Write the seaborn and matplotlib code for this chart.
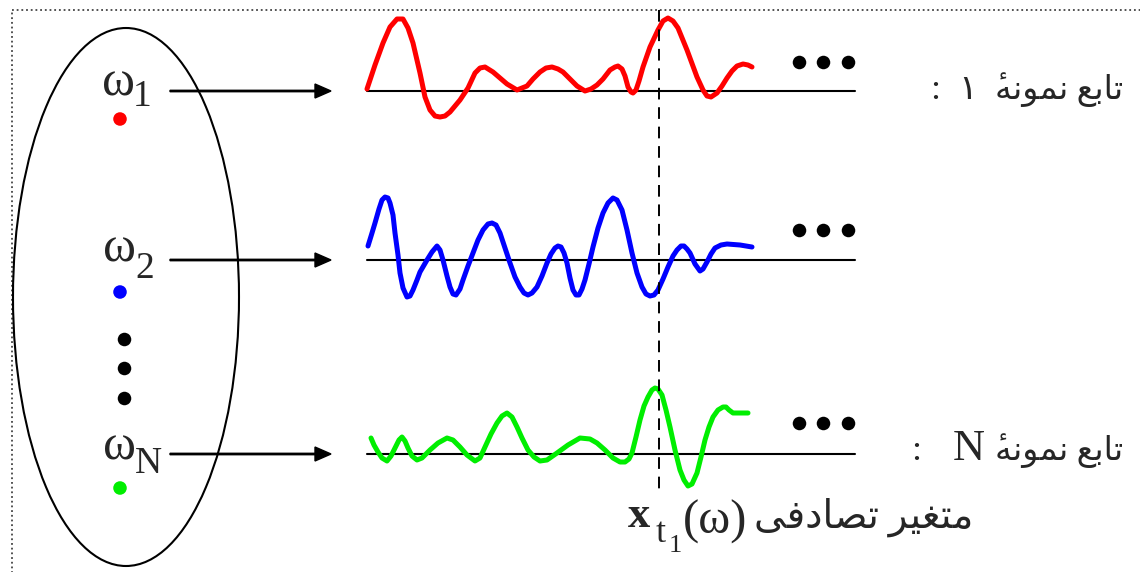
import numpy as np
import matplotlib.pyplot as plt
from matplotlib.patches import Ellipse, Rectangle
import seaborn as sns

# sample functions (x in px, y in px, y grows downward)
red_x = [367, 375, 383, 390, 397, 403, 408, 413, 420, 425, 430, 435, 440, 445, 450, 460, 468, 475, 480, 485,
         493, 500, 507, 517, 527, 533, 540, 546, 552, 558, 563, 570, 577, 585, 591, 597, 603, 610, 615, 618,
         622, 625, 628, 631, 633, 636, 639, 643, 650, 658, 663, 668, 673, 678, 687, 697, 703, 707, 711, 717,
         722, 727, 732, 737, 743, 748, 752]
red_y = [89, 65, 43, 27, 19, 19, 28, 43, 73, 97, 110, 116, 117, 116, 112, 100, 88, 73, 68, 67,
         72, 78, 84, 90, 86, 79, 72, 68, 67, 69, 72, 79, 86, 91, 89, 85, 79, 70, 67, 66,
         69, 76, 87, 92, 93, 90, 81, 67, 47, 30, 21, 18, 21, 28, 50, 77, 90, 96, 97, 93,
         86, 78, 71, 66, 64, 65, 67]

blue_x = [368, 372, 375, 379, 382, 385, 388, 390, 393, 395, 398, 400, 403, 407, 410, 413, 417, 420, 427, 432,
          437, 440, 443, 447, 450, 453, 456, 460, 463, 468, 473, 478, 483, 488, 492, 496, 500, 505, 510, 515,
          520, 524, 528, 532, 537, 542, 547, 551, 555, 558, 561, 564, 567, 570, 573, 576, 579, 582, 585, 589,
          593, 598, 603, 608, 613, 617, 622, 627, 632, 637, 642, 646, 650, 654, 658, 663, 668, 673, 677, 681,
          684, 687, 690, 695, 700, 703, 707, 711, 715, 721, 727, 740, 752]
blue_y = [246, 233, 223, 209, 200, 197, 198, 203, 215, 233, 255, 273, 288, 297, 296, 290, 280, 272, 260, 252,
          246, 250, 260, 276, 287, 294, 295, 289, 280, 266, 253, 240, 230, 224, 223, 225, 233, 248, 263, 277,
          287, 293, 295, 293, 287, 276, 263, 254, 248, 246, 247, 253, 263, 278, 290, 295, 295, 289, 280, 264,
          247, 228, 213, 203, 198, 200, 210, 230, 253, 273, 287, 294, 296, 295, 290, 279, 267, 256, 250, 246,
          246, 249, 253, 264, 271, 269, 262, 254, 248, 245, 244, 245, 247]

green_x = [371, 374, 378, 382, 387, 391, 395, 399, 402, 405, 408, 412, 417, 422, 430, 438, 447, 453, 460, 467,
           475, 480, 485, 491, 497, 502, 507, 512, 517, 522, 528, 534, 540, 547, 557, 568, 580, 590, 597, 605,
           613, 620, 625, 629, 632, 636, 640, 644, 648, 652, 655, 658, 662, 666, 670, 675, 680, 684, 688, 692,
           697, 701, 705, 709, 713, 718, 723, 726, 729, 733, 748]
green_y = [438, 445, 452, 458, 461, 456, 448, 440, 437, 441, 448, 456, 460, 458, 450, 443, 438, 440, 447, 455,
           461, 458, 447, 434, 423, 416, 413, 417, 427, 438, 450, 457, 461, 460, 453, 445, 438, 439, 443, 450,
           458, 462, 462, 459, 453, 437, 420, 406, 397, 390, 388, 389, 395, 410, 427, 450, 470, 480, 486, 484,
           473, 457, 440, 427, 417, 410, 407, 407, 410, 413, 413]

row_y = [91, 260, 454]                 # time axes / arrows
omega_labels = ["1", "2", "N"]
point_colors = ["#ff0000", "#0000ff", "#00ee00"]
point_y = [119, 292, 488]
vdots_y = [339, 368, 398]
hdots_x = [799, 823, 848]
hdots_y = [62, 230, 423]

# Arabic text in visual order (presentation forms, right-to-left reversed)
tabe = "\uFECA\uFE91\uFE8E\uFE97"                   # تابع
nemune = "\u0654\uFEEA\uFEE7\uFEEE\uFEE4\uFEE7"     # نمونهٔ
tasadofi = "\uFEF0\uFED3\uFEA9\uFE8E\uFEBC\uFE97"   # تصادفی
motaghayyer = "\uFEAE\uFEF4\uFED0\uFE98\uFEE3"      # متغیر

sns.set_theme(style="white")
serif = ["Liberation Serif", "DejaVu Sans"]

fig = plt.figure(figsize=(11.4, 5.72), dpi=100)
ax = fig.add_axes([0, 0, 1, 1])
ax.set_xlim(0, 1140)
ax.set_ylim(572, 0)
ax.axis("off")

# dotted frame
ax.add_patch(Rectangle((12, 10), 1200, 700, fill=False, ec="#444444", lw=1.3, ls=(0, (1, 1.6))))

# sample space
ax.add_patch(Ellipse((126, 297), 226, 538, fill=False, ec="black", lw=1.5))

for i, y in enumerate(row_y):
    ax.plot([367, 855], [y, y], color="black", lw=1.5)
    ax.arrow(170, y, 161, 0, width=1.4, head_width=14, head_length=16,
             length_includes_head=True, color="black")

# omega labels
omega_pos = [(102, 96, 133, 106), (103, 262, 135, 278), (103, 460, 135, 473)]
for (ox, oy, sx, sy), lab in zip(omega_pos, omega_labels):
    ax.text(ox, oy, "\u03c9", fontsize=36, family=serif, va="baseline")
    ax.text(sx, sy, lab, fontsize=27, family=serif, va="baseline")

sns.scatterplot(x=[120, 120, 120], y=point_y, hue=point_colors, palette=point_colors,
                s=95, linewidth=0, legend=False, ax=ax)
sns.scatterplot(x=[124] * 3, y=vdots_y, color="black", s=95, linewidth=0, ax=ax)
for y in hdots_y:
    sns.scatterplot(x=hdots_x, y=[y] * 3, color="black", s=95, linewidth=0, ax=ax)

# sample functions
for xs, ys, c in [(red_x, red_y, "#ff0000"), (blue_x, blue_y, "#0000ff"), (green_x, green_y, "#00ee00")]:
    sns.lineplot(x=xs, y=ys, sort=False, estimator=None, color=c, lw=3.6,
                 solid_joinstyle="round", solid_capstyle="round", ax=ax)

# time instant t1
ax.plot([659, 659], [10, 492], color="black", lw=1.4, ls=(0, (6, 4)))

# right-hand labels
ax.text(1123, 99, nemune + " " + tabe, fontsize=24, family=serif, ha="right", va="baseline")
ax.text(958, 99, "\u06f1", fontsize=25, family=serif, va="baseline")
ax.text(930, 99, ":", fontsize=26, family="Liberation Serif", va="baseline")

ax.text(1123, 460, nemune + " " + tabe, fontsize=24, family=serif, ha="right", va="baseline")
ax.text(953, 460, "N", fontsize=32, family="Liberation Serif", va="baseline")
ax.text(911, 460, ":", fontsize=26, family="Liberation Serif", va="baseline")

# random variable label
ax.text(628, 527, "x", fontsize=32, family="Liberation Serif", weight="bold", va="baseline")
ax.text(656, 542, "t", fontsize=26, family="Liberation Serif", va="baseline")
ax.text(669, 552, "1", fontsize=19, family="Liberation Serif", va="baseline")
ax.text(683, 534, "(\u03c9)", fontsize=35, family="Liberation Serif", va="baseline")
ax.text(754, 528, tasadofi + " " + motaghayyer, fontsize=28, family=serif, va="baseline")

fig.savefig("out.png", dpi=100)
